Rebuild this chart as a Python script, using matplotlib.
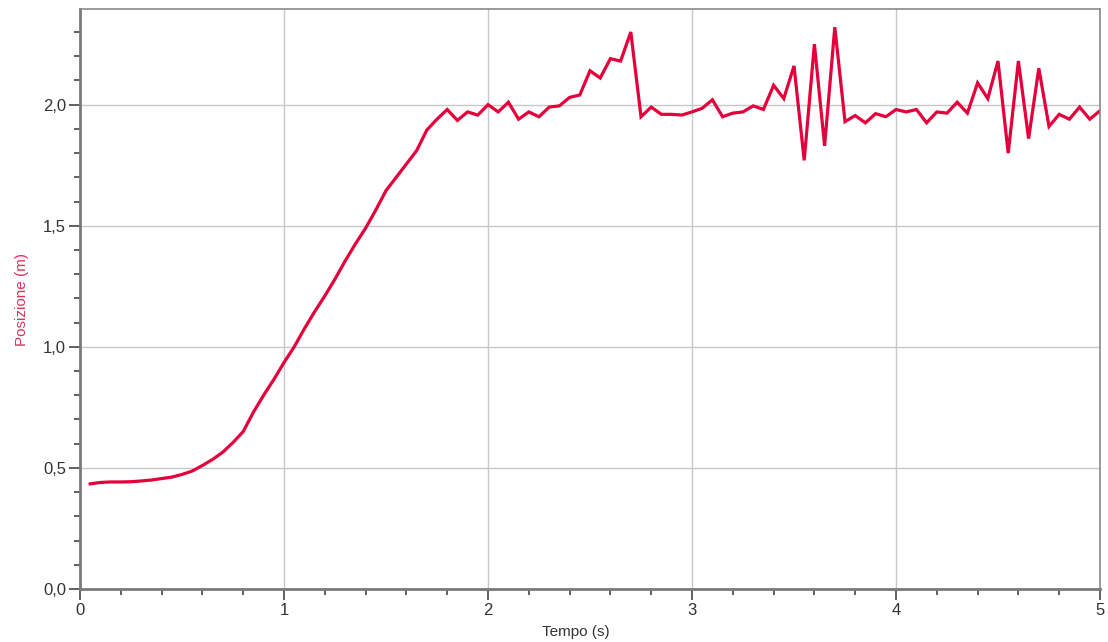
import numpy as np
import matplotlib.pyplot as plt
from matplotlib.ticker import MultipleLocator, FuncFormatter

plt.rcParams['font.family'] = ['Liberation Sans', 'DejaVu Sans']

# Tempo (s), sampled every 0.05 s
tempo = np.round(np.arange(1, 101) * 0.05, 2)

# Posizione (m)
posizione = [
    0.434, 0.440, 0.442, 0.442, 0.443, 0.446, 0.450, 0.456, 0.462, 0.473,
    0.487, 0.510, 0.535, 0.565, 0.605, 0.650, 0.730, 0.800, 0.865, 0.935,
    1.000, 1.075, 1.145, 1.210, 1.280, 1.355, 1.425, 1.490, 1.565, 1.645,
    1.700, 1.755, 1.810, 1.895, 1.940, 1.980, 1.935, 1.970, 1.957, 2.000,
    1.970, 2.010, 1.940, 1.970, 1.950, 1.990, 1.995, 2.030, 2.040, 2.140,
    2.110, 2.190, 2.180, 2.300, 1.950, 1.990, 1.960, 1.960, 1.957, 1.970,
    1.985, 2.020, 1.950, 1.965, 1.970, 1.995, 1.980, 2.080, 2.025, 2.160,
    1.770, 2.250, 1.830, 2.320, 1.930, 1.955, 1.925, 1.963, 1.950, 1.980,
    1.970, 1.980, 1.925, 1.970, 1.965, 2.010, 1.965, 2.090, 2.025, 2.180,
    1.800, 2.180, 1.860, 2.150, 1.910, 1.960, 1.940, 1.990, 1.940, 1.975,
]

fig = plt.figure(figsize=(11.08, 6.42), dpi=100)
ax = fig.add_axes([80 / 1108, 1 - 589 / 642, 1020 / 1108, 580 / 642])

ax.plot(tempo, posizione, color='#e4003b', linewidth=2.3, solid_joinstyle='miter')

ax.set_xlim(0, 5)
ax.set_ylim(0, 2.395)

ax.xaxis.set_major_locator(MultipleLocator(1))
ax.xaxis.set_minor_locator(MultipleLocator(0.2))
ax.yaxis.set_major_locator(MultipleLocator(0.5))
ax.yaxis.set_minor_locator(MultipleLocator(0.1))
ax.yaxis.set_major_formatter(FuncFormatter(lambda v, p: f'{v:.1f}'.replace('.', ',')))

ax.grid(True, which='major', color='#c8c8c8', linewidth=1)
ax.set_axisbelow(True)

for side in ['left', 'bottom']:
    ax.spines[side].set_color('#7a7a7a')
    ax.spines[side].set_linewidth(2)
for side in ['top', 'right']:
    ax.spines[side].set_color('#8a8a8a')
    ax.spines[side].set_linewidth(1.2)

ax.tick_params(which='major', length=8, width=1.2, color='#444444',
               labelsize=12, labelcolor='#333333', pad=2)
ax.tick_params(which='minor', length=4, width=1.2, color='#444444')

ax.set_xlabel('Tempo (s)', fontsize=11, color='#333333', labelpad=6)
ax.xaxis.set_label_coords(0.486, -0.062)
ax.set_ylabel('Posizione (m)', fontsize=11, color='#e0305a', labelpad=10)

fig.savefig('out.png', dpi=100)
